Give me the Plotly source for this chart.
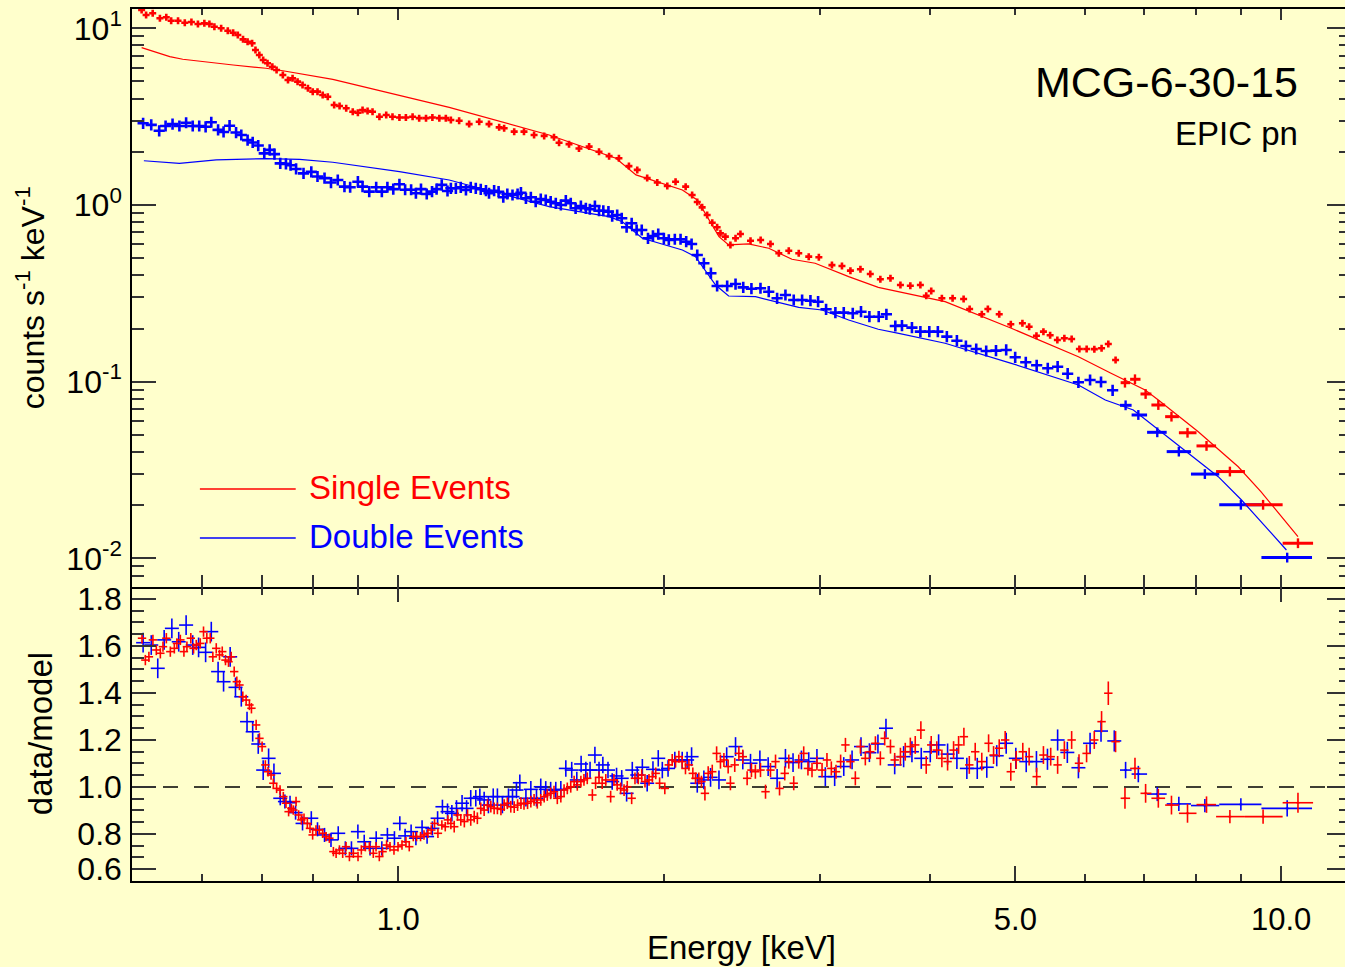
import math
import plotly.graph_objects as go

# ------------------------------------------------------------------ data
# Upper panel: count rate (counts s^-1 keV^-1), narrow bins
red_E = [0.512, 0.518, 0.527, 0.537, 0.546, 0.553, 0.563, 0.573, 0.583, 0.593,
         0.603, 0.611, 0.619, 0.630, 0.641, 0.650, 0.658, 0.667, 0.675, 0.683,
         0.689, 0.696, 0.703, 0.711, 0.720, 0.728, 0.740, 0.750, 0.759, 0.769,
         0.779, 0.790, 0.800, 0.810, 0.821, 0.832, 0.846, 0.858, 0.873, 0.888,
         0.900, 0.911, 0.923, 0.935, 0.952, 0.969, 0.985, 1.003, 1.020, 1.038,
         1.056, 1.075, 1.093, 1.113, 1.132,
         1.147, 1.172, 1.203, 1.235, 1.267, 1.301, 1.318, 1.353, 1.388, 1.425,
         1.463, 1.501, 1.521, 1.561, 1.602, 1.645, 1.688, 1.733, 1.778, 1.825,
         1.865, 1.914, 1.965, 2.017, 2.061, 2.116, 2.152, 2.181, 2.209, 2.238,
         2.268, 2.297, 2.317, 2.347, 2.378, 2.410, 2.441, 2.506, 2.573, 2.640,
         2.698, 2.769, 2.842, 2.917, 2.995, 3.099, 3.181, 3.252, 3.338, 3.425,
         3.516, 3.610,
         3.705, 3.802, 3.903, 3.963, 4.015, 4.128, 4.245, 4.369, 4.438, 4.581,
         4.654, 4.794, 4.941, 5.093, 5.183, 5.283, 5.380, 5.475, 5.579, 5.682,
         5.791, 5.909, 6.022, 6.144, 6.261, 6.372, 6.494]
red_rate = [12.7, 11.9, 12.16, 11.4, 11.54, 11.04, 11.04, 10.76, 10.86, 10.57,
            10.67, 10.57, 10.21, 10.0, 9.69, 9.44, 9.17, 8.66, 8.40, 8.23,
            7.54, 7.06, 6.62, 6.34, 6.06, 5.81, 5.44, 5.10, 5.21, 4.99,
            4.78, 4.58, 4.38, 4.38, 4.19, 4.10, 3.68, 3.63, 3.53, 3.37,
            3.33, 3.45, 3.40, 3.37, 3.16, 3.23, 3.16, 3.13, 3.13, 3.16,
            3.10, 3.10, 3.13, 3.10, 3.10,
            3.03, 3.00, 2.87, 2.96, 2.87, 2.75, 2.72, 2.60, 2.60, 2.49,
            2.46, 2.42, 2.25, 2.21, 2.09, 2.14, 2.00, 1.89, 1.84, 1.66,
            1.58, 1.42, 1.34, 1.28, 1.355, 1.27, 1.14, 1.04, 0.97, 0.878,
            0.794, 0.748, 0.691, 0.662, 0.594, 0.648, 0.685, 0.628, 0.634, 0.602,
            0.533, 0.551, 0.533, 0.510, 0.506, 0.457, 0.452, 0.425, 0.433, 0.407,
            0.380, 0.385,
            0.3526, 0.3494, 0.3526, 0.3067, 0.326, 0.2965, 0.2965, 0.2938, 0.2578, 0.2406,
            0.2578, 0.2406, 0.2113, 0.2140, 0.2048, 0.1821, 0.1919, 0.1831, 0.1722, 0.1760,
            0.1744, 0.1531, 0.1531, 0.1528, 0.1545, 0.1634, 0.1327]

blue_E = [0.514, 0.525, 0.536, 0.545, 0.555, 0.565, 0.575, 0.585, 0.595, 0.605,
          0.614, 0.625, 0.634, 0.644, 0.655, 0.664, 0.675, 0.684, 0.694, 0.705,
          0.715, 0.724, 0.735, 0.746, 0.755, 0.766, 0.781, 0.797, 0.810, 0.825,
          0.839, 0.854, 0.869, 0.882, 0.900, 0.911, 0.927, 0.944, 0.958, 0.972,
          0.987, 1.003, 1.018, 1.034, 1.047, 1.061, 1.077, 1.092, 1.105, 1.120,
          1.137,
          1.147, 1.162, 1.177, 1.193, 1.208, 1.224, 1.240, 1.257, 1.267, 1.284,
          1.299, 1.315, 1.329, 1.347, 1.365, 1.377, 1.395, 1.413, 1.431, 1.450,
          1.469, 1.488, 1.508, 1.528, 1.548, 1.568, 1.588, 1.610, 1.631, 1.648,
          1.670, 1.688, 1.707, 1.730, 1.747, 1.770, 1.791, 1.814, 1.838, 1.862,
          1.887, 1.918, 1.943, 1.970, 1.999, 2.025, 2.057, 2.088, 2.119, 2.149,
          2.181, 2.219, 2.260, 2.297, 2.358, 2.410, 2.459, 2.512, 2.572, 2.628,
          2.686, 2.745, 2.805, 2.867, 2.930, 2.989, 3.052, 3.127, 3.196, 3.272,
          3.343, 3.417, 3.501, 3.572, 3.656,
          3.720, 3.818, 3.903, 3.995, 4.085, 4.182, 4.293, 4.395, 4.515, 4.634,
          4.754, 4.882, 4.998, 5.138, 5.286, 5.441, 5.583, 5.731, 5.894, 6.076,
          6.252, 6.444]
blue_rate = [2.90, 2.84, 2.63, 2.80, 2.87, 2.80, 2.92, 2.80, 2.80, 2.77,
             2.94, 2.66, 2.59, 2.81, 2.57, 2.49, 2.33, 2.26, 2.17, 1.96,
             2.05, 1.94, 1.72, 1.71, 1.68, 1.60, 1.51, 1.54, 1.45, 1.42,
             1.34, 1.385, 1.27, 1.26, 1.355, 1.27, 1.19, 1.26, 1.19, 1.26,
             1.23, 1.31, 1.22, 1.22, 1.165, 1.23, 1.154, 1.19, 1.23, 1.30,
             1.20,
             1.243, 1.243, 1.259, 1.216, 1.259, 1.243, 1.227, 1.205, 1.165, 1.205,
             1.189, 1.106, 1.154, 1.139, 1.154, 1.174, 1.091, 1.106, 1.044, 1.081,
             1.067, 1.044, 1.022, 1.000, 1.058, 1.022, 0.958, 0.987, 0.958, 0.946,
             0.987, 0.928, 0.928, 0.917, 0.866, 0.878, 0.841, 0.748, 0.788, 0.722,
             0.722, 0.648, 0.668, 0.685, 0.648, 0.634, 0.640, 0.640, 0.620, 0.601,
             0.521, 0.468, 0.411, 0.348, 0.348, 0.357, 0.342, 0.336, 0.338, 0.323,
             0.2965, 0.3095, 0.290, 0.290, 0.2873, 0.2836, 0.2569, 0.2458, 0.2458, 0.2438,
             0.249, 0.2333, 0.2333, 0.2406, 0.2066,
             0.2075, 0.2022, 0.1919, 0.1919, 0.1919, 0.1798, 0.1706, 0.1592, 0.1531, 0.1492,
             0.1498, 0.1512, 0.1374, 0.1288, 0.1238, 0.1191, 0.1216, 0.1110, 0.0992, 0.1022,
             0.0996, 0.0894]

# Wide high-energy bins (centre, lower edge, upper edge), both panels
red_bin_E = [6.655, 6.831, 7.023, 7.260, 7.513, 7.834, 8.232, 8.750, 9.541, 10.45]
red_bin_lo = [6.58, 6.745, 6.93, 7.13, 7.39, 7.66, 8.02, 8.44, 9.10, 10.04]
red_bin_hi = [6.745, 6.93, 7.13, 7.39, 7.66, 8.02, 8.44, 9.10, 10.04, 10.87]
red_bin_rate = [0.0987, 0.1032, 0.0852, 0.0738, 0.0634, 0.0514, 0.0433, 0.0310, 0.0201, 0.01218]
red_bin_ratio = [0.952, 1.079, 0.973, 0.952, 0.923, 0.888, 0.925, 0.874, 0.874, 0.933]
red_bin_ratio_err = [0.045, 0.045, 0.04, 0.04, 0.04, 0.04, 0.035, 0.028, 0.03, 0.043]

blue_bin_E = [6.666, 6.891, 7.240, 7.659, 8.197, 9.004, 10.16]
blue_bin_lo = [6.569, 6.771, 7.05, 7.42, 7.905, 8.51, 9.50]
blue_bin_hi = [6.771, 7.05, 7.42, 7.905, 8.51, 9.50, 10.84]
blue_bin_rate = [0.0735, 0.0648, 0.0517, 0.0402, 0.0300, 0.0201, 0.0101]
blue_bin_ratio = [1.072, 1.055, 0.970, 0.928, 0.921, 0.926, 0.909]
blue_bin_ratio_err = [0.035, 0.035, 0.03, 0.03, 0.028, 0.026, 0.035]

# Model curves (upper panel)
red_model_E = [0.512, 0.532, 0.551, 0.570, 0.595, 0.650, 0.708, 0.740, 0.843, 1.003,
               1.142, 1.482, 1.764, 1.859, 2.098, 2.181, 2.249, 2.308, 2.367, 2.493,
               2.628, 2.792, 2.966, 3.237, 3.497, 4.163, 4.948, 5.894, 6.417, 7.015,
               7.260, 8.057, 8.942, 9.492, 10.45]
red_model = [7.77, 7.28, 6.91, 6.68, 6.51, 6.20, 5.94, 5.75, 5.14, 4.19,
             3.57, 2.49, 1.84, 1.48, 1.216, 1.067, 0.822, 0.662, 0.594, 0.602,
             0.569, 0.493, 0.468, 0.393, 0.342, 0.2836, 0.2005, 0.1385, 0.1116, 0.0897,
             0.0788, 0.0521, 0.0330, 0.0238, 0.01327]
blue_model_E = [0.515, 0.565, 0.622, 0.708, 0.773, 0.843, 1.003, 1.142, 1.482, 1.733,
                1.794, 1.890, 2.098, 2.171, 2.288, 2.367, 2.539, 2.721, 2.842, 3.020,
                3.237, 3.497, 3.689, 4.163, 4.948, 5.894, 6.322, 6.802, 7.713, 8.488,
                9.019, 10.14]
blue_model = [1.78, 1.72, 1.80, 1.83, 1.81, 1.745, 1.543, 1.385, 0.978, 0.859,
              0.804, 0.648, 0.556, 0.510, 0.3526, 0.3055, 0.3027, 0.2778, 0.2636, 0.2545,
              0.2234, 0.198, 0.1879, 0.165, 0.127, 0.0958, 0.0788, 0.0692, 0.0420, 0.0290,
              0.0214, 0.01115]

# Lower panel: data/model ratio, narrow bins
red_ratio_E = [0.5125, 0.5170, 0.5218, 0.5273, 0.5320, 0.5376, 0.5413, 0.5461, 0.5518, 0.5576,
               0.5614, 0.5664, 0.5717, 0.5762, 0.5821, 0.5863, 0.5904, 0.5966, 0.6017, 0.6069,
               0.6124, 0.6165, 0.6220, 0.6273, 0.6318, 0.6372, 0.6422, 0.6467, 0.6518, 0.6563,
               0.6608, 0.6666, 0.6724, 0.6782, 0.6818, 0.6902, 0.6962, 0.7010, 0.7070, 0.7120,
               0.7176, 0.7219, 0.7281, 0.7346, 0.7409, 0.7461, 0.7512, 0.7566, 0.7604, 0.7659,
               0.7711, 0.7766, 0.7820, 0.7888, 0.7943, 0.7998, 0.8068, 0.8138, 0.8210, 0.8283,
               0.8354, 0.8443, 0.8503, 0.8577, 0.8650, 0.8726, 0.8803, 0.8894, 0.9003, 0.9081,
               0.9177, 0.9273, 0.9369, 0.9436, 0.9517, 0.9598, 0.9700, 0.9786, 0.9888, 0.9993,
               1.0097, 1.0202, 1.0290, 1.0399, 1.0489, 1.0598, 1.0693, 1.0804, 1.0898, 1.0992,
               1.1089, 1.1204, 1.1303, 1.1381,
               1.147, 1.157, 1.167, 1.177, 1.188, 1.198, 1.208, 1.219, 1.229, 1.240,
               1.251, 1.262, 1.273, 1.284, 1.295, 1.307, 1.318, 1.329, 1.341, 1.353,
               1.365, 1.377, 1.388, 1.401, 1.413, 1.425, 1.437, 1.450, 1.463, 1.475,
               1.488, 1.501, 1.514, 1.528, 1.541, 1.554, 1.568, 1.582, 1.595, 1.610,
               1.623, 1.637, 1.659, 1.673, 1.688, 1.702, 1.718, 1.740, 1.755, 1.770,
               1.786, 1.802, 1.817, 1.838, 1.854, 1.870, 1.887, 1.903, 1.923, 1.940,
               1.957, 1.977, 2.004, 2.025, 2.043, 2.061, 2.079, 2.097, 2.115, 2.134,
               2.156, 2.171, 2.190, 2.205, 2.225, 2.244, 2.268, 2.294, 2.317, 2.338,
               2.364, 2.378, 2.405, 2.431, 2.456, 2.484, 2.512, 2.538, 2.572, 2.606,
               2.640, 2.675, 2.703, 2.740, 2.769, 2.805, 2.842, 2.879, 2.911, 2.942,
               2.980, 3.020, 3.059, 3.094, 3.132, 3.170, 3.210, 3.252, 3.294, 3.338,
               3.381, 3.425, 3.471, 3.516, 3.556, 3.610, 3.650,
               3.705, 3.752, 3.802, 3.851, 3.908, 3.963, 4.015, 4.074, 4.128, 4.190,
               4.256, 4.312, 4.372, 4.434, 4.503, 4.581, 4.663, 4.724, 4.794, 4.869,
               4.941, 5.011, 5.098, 5.183, 5.286, 5.380, 5.483, 5.583, 5.682, 5.791,
               5.903, 6.021, 6.143, 6.261, 6.372, 6.494]
red_ratio = [1.633, 1.540, 1.554, 1.626, 1.583, 1.569, 1.597, 1.633, 1.576, 1.590,
             1.611, 1.626, 1.576, 1.597, 1.633, 1.590, 1.604, 1.611, 1.661, 1.633,
             1.633, 1.554, 1.590, 1.562, 1.576, 1.540, 1.533, 1.554, 1.491, 1.448,
             1.434, 1.384, 1.370, 1.349, 1.335, 1.264, 1.207, 1.172, 1.094, 1.065,
             1.051, 1.016, 0.994, 0.987, 0.959, 0.931, 0.895, 0.909, 0.902, 0.938,
             0.881, 0.860, 0.867, 0.845, 0.824, 0.796, 0.817, 0.817, 0.803, 0.789,
             0.782, 0.725, 0.718, 0.732, 0.718, 0.746, 0.704, 0.718, 0.704, 0.732,
             0.746, 0.746, 0.718, 0.746, 0.704, 0.725, 0.753, 0.746, 0.732, 0.746,
             0.753, 0.767, 0.746, 0.789, 0.789, 0.789, 0.796, 0.803, 0.817, 0.845,
             0.803, 0.838, 0.831, 0.860,
             0.845, 0.831, 0.881, 0.860, 0.853, 0.881, 0.860, 0.874, 0.867, 0.909,
             0.902, 0.923, 0.916, 0.909, 0.909, 0.905, 0.923, 0.931, 0.916, 0.914,
             0.923, 0.931, 0.928, 0.931, 0.938, 0.945, 0.933, 0.945, 0.959, 0.966,
             0.973, 0.980, 0.952, 0.959, 0.987, 0.994, 1.001, 1.023, 1.009, 1.023,
             1.030, 1.037, 0.966, 1.016, 1.041, 1.016, 1.030, 0.959, 1.030, 1.009,
             0.994, 0.987, 1.001, 0.952, 1.037, 1.037, 1.051, 1.023, 1.030, 1.044,
             1.058, 1.016, 0.994, 1.094, 1.115, 1.108, 1.129, 1.108, 1.079, 1.094,
             1.058, 1.037, 1.037, 1.023, 0.973, 1.058, 1.065, 1.143, 1.108, 1.115,
             1.087, 1.016, 1.094, 1.143, 1.129, 1.037, 1.072, 1.065, 1.072, 0.980,
             1.072, 1.108, 0.994, 1.058, 1.108, 1.016, 1.108, 1.143, 1.079, 1.072,
             1.101, 1.072, 1.115, 1.079, 1.065, 1.108, 1.179, 1.108, 1.037, 1.172,
             1.122, 1.150, 1.186, 1.122, 1.207, 1.172, 1.115,
             1.129, 1.150, 1.172, 1.179, 1.242, 1.094, 1.179, 1.157, 1.122, 1.108,
             1.157, 1.179, 1.214, 1.094, 1.150, 1.108, 1.186, 1.136, 1.165, 1.200,
             1.065, 1.115, 1.150, 1.129, 1.044, 1.136, 1.129, 1.094, 1.157, 1.200,
             1.101, 1.143, 1.200, 1.278, 1.399, 1.193]
red_ratio_err = [0.022, 0.022, 0.022, 0.022, 0.022, 0.022, 0.022, 0.022, 0.022, 0.022,
                 0.022, 0.022, 0.022, 0.022, 0.022, 0.022, 0.022, 0.022, 0.022, 0.022,
                 0.022, 0.022, 0.022, 0.022, 0.022, 0.022, 0.022, 0.022, 0.022, 0.022,
                 0.022, 0.022, 0.022, 0.022, 0.022, 0.022, 0.022, 0.022, 0.020, 0.020,
                 0.020, 0.020, 0.020, 0.020, 0.020, 0.020, 0.020, 0.020, 0.020, 0.020,
                 0.020, 0.020, 0.020, 0.020, 0.020, 0.020, 0.020, 0.020, 0.020, 0.020,
                 0.020, 0.020, 0.020, 0.020, 0.020, 0.020, 0.020, 0.020, 0.020, 0.020,
                 0.020, 0.020, 0.020, 0.020, 0.020, 0.020, 0.020, 0.020, 0.020, 0.020,
                 0.020, 0.020, 0.020, 0.020, 0.020, 0.020, 0.020, 0.020, 0.020, 0.020,
                 0.020, 0.020, 0.020, 0.020,
                 0.025, 0.025, 0.025, 0.025, 0.025, 0.025, 0.025, 0.025, 0.025, 0.025,
                 0.025, 0.025, 0.025, 0.025, 0.025, 0.025, 0.025, 0.025, 0.025, 0.025,
                 0.025, 0.025, 0.025, 0.025, 0.025, 0.025, 0.025, 0.025, 0.025, 0.025,
                 0.025, 0.025, 0.025, 0.025, 0.025, 0.025, 0.025, 0.025, 0.025, 0.025,
                 0.025, 0.025, 0.025, 0.025, 0.025, 0.025, 0.025, 0.025, 0.025, 0.025,
                 0.025, 0.025, 0.025, 0.025, 0.025, 0.025, 0.025, 0.025, 0.025, 0.025,
                 0.025, 0.025, 0.025, 0.025, 0.025, 0.025, 0.025, 0.025, 0.025, 0.025,
                 0.025, 0.025, 0.025, 0.025, 0.030, 0.030, 0.030, 0.030, 0.030, 0.030,
                 0.030, 0.030, 0.030, 0.030, 0.030, 0.030, 0.030, 0.030, 0.030, 0.030,
                 0.030, 0.030, 0.030, 0.030, 0.030, 0.030, 0.030, 0.030, 0.030, 0.030,
                 0.030, 0.030, 0.030, 0.030, 0.030, 0.030, 0.030, 0.030, 0.030, 0.030,
                 0.030, 0.030, 0.030, 0.030, 0.030, 0.030, 0.030,
                 0.038, 0.038, 0.038, 0.038, 0.038, 0.038, 0.038, 0.038, 0.038, 0.038,
                 0.038, 0.038, 0.038, 0.038, 0.038, 0.038, 0.038, 0.038, 0.038, 0.038,
                 0.038, 0.038, 0.038, 0.038, 0.038, 0.038, 0.038, 0.038, 0.038, 0.038,
                 0.038, 0.038, 0.038, 0.045, 0.050, 0.045]

blue_ratio_E = [0.514, 0.525, 0.534, 0.543, 0.554, 0.564, 0.575, 0.585, 0.594, 0.605,
                0.614, 0.625, 0.634, 0.645, 0.654, 0.664, 0.674, 0.684, 0.694, 0.703,
                0.713, 0.723, 0.735, 0.744, 0.754, 0.765, 0.779, 0.797, 0.810, 0.825,
                0.839, 0.855, 0.871, 0.885, 0.900, 0.915, 0.929, 0.944, 0.958, 0.972,
                0.990, 1.004, 1.018, 1.034, 1.047, 1.064, 1.078, 1.093, 1.108, 1.122,
                1.137, 1.150, 1.164, 1.181, 1.195, 1.208, 1.224, 1.237, 1.251, 1.265,
                1.281, 1.295, 1.312, 1.333, 1.347, 1.361, 1.373, 1.395, 1.413, 1.434,
                1.450, 1.469, 1.488, 1.508, 1.528, 1.548, 1.572, 1.593, 1.611, 1.631,
                1.649, 1.670, 1.688, 1.705, 1.728, 1.747, 1.767, 1.791, 1.814, 1.841,
                1.865, 1.890, 1.914, 1.943, 1.970, 1.991, 2.021, 2.057, 2.097, 2.124,
                2.149, 2.181, 2.219, 2.258, 2.308, 2.355, 2.410, 2.456, 2.506, 2.568,
                2.624, 2.686, 2.745, 2.800, 2.862, 2.917, 2.980, 3.046, 3.121, 3.196,
                3.266, 3.343, 3.417, 3.494, 3.568, 3.650,
                3.736, 3.818, 3.912, 4.005, 4.093, 4.190, 4.293, 4.406, 4.527, 4.641,
                4.763, 4.882, 5.006, 5.144, 5.283, 5.437, 5.583, 5.726, 5.894, 6.076,
                6.252, 6.472]
blue_ratio = [1.614, 1.604, 1.505, 1.626, 1.675, 1.618, 1.689, 1.604, 1.594, 1.573,
              1.661, 1.491, 1.448, 1.554, 1.424, 1.384, 1.278, 1.235, 1.183, 1.072,
              1.122, 1.058, 0.952, 0.938, 0.933, 0.891, 0.845, 0.867, 0.820, 0.796,
              0.775, 0.803, 0.739, 0.739, 0.810, 0.767, 0.739, 0.782, 0.739, 0.796,
              0.782, 0.845, 0.792, 0.810, 0.782, 0.828, 0.789, 0.824, 0.867, 0.916,
              0.895, 0.888, 0.909, 0.931, 0.909, 0.952, 0.952, 0.959, 0.945, 0.923,
              0.959, 0.959, 0.923, 0.959, 0.959, 0.987, 1.018, 0.952, 0.990, 0.952,
              1.001, 0.990, 0.987, 0.987, 0.990, 1.079, 1.072, 1.030, 1.098, 1.072,
              1.072, 1.136, 1.072, 1.094, 1.072, 1.023, 1.047, 1.037, 0.973, 1.072,
              1.051, 1.084, 1.016, 1.075, 1.122, 1.072, 1.079, 1.115, 1.115, 1.115,
              1.129, 1.016, 1.030, 1.041, 1.030, 1.129, 1.172, 1.115, 1.101, 1.115,
              1.087, 1.037, 1.122, 1.104, 1.115, 1.108, 1.122, 1.044, 1.044, 1.087,
              1.115, 1.172, 1.146, 1.183, 1.250, 1.094,
              1.129, 1.150, 1.122, 1.150, 1.179, 1.140, 1.122, 1.079, 1.079, 1.084,
              1.133, 1.186, 1.122, 1.108, 1.108, 1.118, 1.200, 1.147, 1.082, 1.186,
              1.238, 1.196]
blue_ratio_err = [0.042, 0.042, 0.042, 0.042, 0.042, 0.042, 0.042, 0.042, 0.042, 0.042,
                  0.042, 0.042, 0.042, 0.042, 0.042, 0.042, 0.042, 0.042, 0.042, 0.042,
                  0.042, 0.042, 0.030, 0.030, 0.030, 0.030, 0.030, 0.030, 0.030, 0.030,
                  0.030, 0.030, 0.030, 0.030, 0.030, 0.030, 0.030, 0.030, 0.030, 0.030,
                  0.030, 0.030, 0.030, 0.030, 0.030, 0.030, 0.030, 0.030, 0.030, 0.030,
                  0.035, 0.035, 0.035, 0.035, 0.035, 0.035, 0.035, 0.035, 0.035, 0.035,
                  0.035, 0.035, 0.035, 0.035, 0.035, 0.035, 0.035, 0.035, 0.035, 0.035,
                  0.035, 0.035, 0.035, 0.035, 0.035, 0.035, 0.035, 0.035, 0.035, 0.035,
                  0.035, 0.035, 0.035, 0.035, 0.035, 0.035, 0.035, 0.035, 0.035, 0.035,
                  0.035, 0.035, 0.035, 0.035, 0.035, 0.035, 0.035, 0.035, 0.035, 0.035,
                  0.040, 0.040, 0.040, 0.040, 0.040, 0.040, 0.040, 0.040, 0.040, 0.040,
                  0.040, 0.040, 0.040, 0.040, 0.040, 0.040, 0.040, 0.040, 0.040, 0.040,
                  0.040, 0.040, 0.040, 0.040, 0.040, 0.040,
                  0.045, 0.045, 0.045, 0.045, 0.045, 0.045, 0.045, 0.045, 0.045, 0.045,
                  0.045, 0.045, 0.045, 0.045, 0.045, 0.045, 0.045, 0.045, 0.045, 0.045,
                  0.045, 0.045]

# Axis ranges and tick labels
E_MIN, E_MAX = 0.4993, 12.0
RATE_MIN, RATE_MAX = 0.006887, 12.86
RATIO_MIN, RATIO_MAX = 0.6, 1.851
x_label_vals = [1, 5, 10]
x_label_text = ["1.0", "5.0", "10.0"]
rate_tick_vals = [0.01, 0.1, 1, 10]
rate_tick_text = ["10<sup>-2</sup>", "10<sup>-1</sup>", "10<sup>0</sup>", "10<sup>1</sup>"]
ratio_tick_vals = [0.65, 0.8, 1.0, 1.2, 1.4, 1.6, 1.8]
ratio_tick_text = ["0.6", "0.8", "1.0", "1.2", "1.4", "1.6", "1.8"]

# ------------------------------------------------------------------ style
BG = "#FFFFCC"
RED = "#FF0000"
BLUE = "#0000FF"
FONT = "Liberation Sans, Arial, Helvetica, sans-serif"
TICKC = "#333333"

X_MINOR = [0.6, 0.7, 0.8, 0.9, 2, 3, 4, 5, 6, 7, 8, 9]
X_MINOR_NO5 = [0.6, 0.7, 0.8, 0.9, 2, 3, 4, 6, 7, 8, 9]
RATE_MINOR = [0.008, 0.009, 0.02, 0.03, 0.04, 0.05, 0.06, 0.07, 0.08, 0.09,
              0.2, 0.3, 0.4, 0.5, 0.6, 0.7, 0.8, 0.9, 2, 3, 4, 5, 6, 7, 8, 9]
RATIO_MINOR = [0.7, 0.75, 0.85, 0.9, 0.95, 1.05, 1.1, 1.15, 1.25, 1.3, 1.35,
               1.45, 1.5, 1.55, 1.65, 1.7, 1.75, 1.85]

def lower_err(c, lo):
    return [ci - li for ci, li in zip(c, lo)]

def upper_err(c, hi):
    return [hi_i - ci for ci, hi_i in zip(c, hi)]

fig = go.Figure()

# ---- upper panel: data
fig.add_trace(go.Scatter(
    x=blue_E, y=blue_rate, mode="markers", xaxis="x", yaxis="y", hoverinfo="skip",
    marker=dict(symbol="cross-thin", size=8, color=BLUE, line=dict(width=2.6, color=BLUE))))
fig.add_trace(go.Scatter(
    x=red_E, y=red_rate, mode="markers", xaxis="x", yaxis="y", hoverinfo="skip",
    marker=dict(symbol="cross-thin", size=5, color=RED, line=dict(width=2.6, color=RED))))
fig.add_trace(go.Scatter(
    x=blue_bin_E, y=blue_bin_rate, mode="markers", xaxis="x", yaxis="y", hoverinfo="skip",
    marker=dict(symbol="line-ns", size=7, color=BLUE, line=dict(width=2.4, color=BLUE)),
    error_x=dict(type="data", symmetric=False, array=upper_err(blue_bin_E, blue_bin_hi),
                 arrayminus=lower_err(blue_bin_E, blue_bin_lo), thickness=3, width=0, color=BLUE)))
fig.add_trace(go.Scatter(
    x=red_bin_E, y=red_bin_rate, mode="markers", xaxis="x", yaxis="y", hoverinfo="skip",
    marker=dict(symbol="line-ns", size=7, color=RED, line=dict(width=2.4, color=RED)),
    error_x=dict(type="data", symmetric=False, array=upper_err(red_bin_E, red_bin_hi),
                 arrayminus=lower_err(red_bin_E, red_bin_lo), thickness=3, width=0, color=RED)))

# ---- upper panel: model curves (on the overlay x axis that carries the top ticks)
fig.add_trace(go.Scatter(x=red_model_E, y=red_model, mode="lines", xaxis="x3", yaxis="y",
                         hoverinfo="skip", line=dict(color=RED, width=1.2)))
fig.add_trace(go.Scatter(x=blue_model_E, y=blue_model, mode="lines", xaxis="x3", yaxis="y",
                         hoverinfo="skip", line=dict(color=BLUE, width=1.2)))

# ---- lower panel: ratios
fig.add_trace(go.Scatter(
    x=blue_ratio_E, y=blue_ratio, mode="markers", xaxis="x2", yaxis="y2", hoverinfo="skip",
    marker=dict(symbol="line-ew", size=10, color=BLUE, line=dict(width=1.6, color=BLUE)),
    error_y=dict(type="data", array=blue_ratio_err, thickness=1.6, width=0, color=BLUE)))
fig.add_trace(go.Scatter(
    x=red_ratio_E, y=red_ratio, mode="markers", xaxis="x2", yaxis="y2", hoverinfo="skip",
    marker=dict(symbol="line-ew", size=6, color=RED, line=dict(width=1.6, color=RED)),
    error_y=dict(type="data", array=red_ratio_err, thickness=1.6, width=0, color=RED)))
fig.add_trace(go.Scatter(
    x=blue_bin_E, y=blue_bin_ratio, mode="markers", xaxis="x4", yaxis="y2", hoverinfo="skip",
    marker=dict(symbol="line-ew", size=2, color=BLUE, line=dict(width=1.6, color=BLUE)),
    error_x=dict(type="data", symmetric=False, array=upper_err(blue_bin_E, blue_bin_hi),
                 arrayminus=lower_err(blue_bin_E, blue_bin_lo), thickness=1.6, width=0, color=BLUE),
    error_y=dict(type="data", array=blue_bin_ratio_err, thickness=1.6, width=0, color=BLUE)))
fig.add_trace(go.Scatter(
    x=red_bin_E, y=red_bin_ratio, mode="markers", xaxis="x4", yaxis="y2", hoverinfo="skip",
    marker=dict(symbol="line-ew", size=2, color=RED, line=dict(width=1.6, color=RED)),
    error_x=dict(type="data", symmetric=False, array=upper_err(red_bin_E, red_bin_hi),
                 arrayminus=lower_err(red_bin_E, red_bin_lo), thickness=1.6, width=0, color=RED),
    error_y=dict(type="data", array=red_bin_ratio_err, thickness=1.6, width=0, color=RED)))

# ------------------------------------------------------------------ axes
SPLIT = 0.33716
xr = [math.log10(E_MIN), math.log10(E_MAX)]
yr = [math.log10(RATE_MIN), math.log10(RATE_MAX)]

def xax(**kw):
    d = dict(type="log", range=xr, showgrid=False, zeroline=False, showline=True,
             linecolor="black", linewidth=1.5, ticks="inside", tickcolor=TICKC, tickwidth=1.5,
             showticklabels=False, tickmode="array", tickvals=[1, 10])
    d.update(kw)
    return d

def minor(vals, ln):
    return dict(tickmode="array", tickvals=vals, ticks="inside", ticklen=ln,
                tickcolor=TICKC, tickwidth=1.5, showgrid=False)

# the original frame extends to 12 keV, a few pixels past the right edge of the picture
fig.update_layout(
    width=1353, height=967,
    margin=dict(l=132, r=0, t=9, b=86, pad=0),
    paper_bgcolor=BG, plot_bgcolor=BG, showlegend=False,
    font=dict(family=FONT, size=31, color="black"),
    xaxis=xax(domain=[0, 1], anchor="y", side="bottom", ticklen=12, minor=minor(X_MINOR, 12)),
    xaxis3=xax(overlaying="x", anchor="y", side="top", ticklen=11, minor=minor(X_MINOR, 6)),
    yaxis=dict(type="log", domain=[SPLIT, 1], anchor="x", range=yr, showgrid=False, zeroline=False,
               showline=True, mirror="ticks", linecolor="black", linewidth=1.5, ticks="inside",
               ticklen=24, tickcolor=TICKC, tickwidth=1.5, tickmode="array",
               tickvals=rate_tick_vals, ticktext=rate_tick_text, tickfont=dict(size=32),
               ticklabelstandoff=2, minor=minor(RATE_MINOR, 12)),
    xaxis2=xax(domain=[0, 1], anchor="y2", side="bottom", ticklen=15, tickvals=x_label_vals,
               ticktext=x_label_text, showticklabels=True, tickfont=dict(size=31),
               ticklabelstandoff=10, minor=minor(X_MINOR_NO5, 7)),
    xaxis4=xax(overlaying="x2", anchor="y2", side="top", ticklen=15, showline=False,
               minor=minor(X_MINOR, 8)),
    yaxis2=dict(domain=[0, SPLIT], anchor="x2", range=[RATIO_MIN, RATIO_MAX], showgrid=False,
                zeroline=False, showline=True, mirror="ticks", linecolor="black", linewidth=1.5,
                ticks="inside", ticklen=24, tickcolor=TICKC, tickwidth=1.5, tickmode="array",
                tickvals=ratio_tick_vals, ticktext=ratio_tick_text, tickfont=dict(size=32),
                ticklabelstandoff=2, minor=minor(RATIO_MINOR, 12)),
)

# dashed unity line in the ratio panel
fig.add_shape(type="line", xref="x2 domain", yref="y2", x0=0, x1=1, y0=1.0, y1=1.0,
              line=dict(color="black", width=1.5, dash="15px,16px"), layer="below")

# legend (drawn as in the original figure)
fig.add_shape(type="line", xref="paper", yref="paper", x0=0.0557, x1=0.1343, y0=0.4495, y1=0.4495,
              line=dict(color=RED, width=1.6))
fig.add_shape(type="line", xref="paper", yref="paper", x0=0.0557, x1=0.1343, y0=0.3933, y1=0.3933,
              line=dict(color=BLUE, width=1.6))

ann = dict(xref="paper", yref="paper", showarrow=False)
fig.add_annotation(text="Single Events", x=0.1433, y=0.4507, xanchor="left", yanchor="middle",
                   font=dict(size=33, color=RED), **ann)
fig.add_annotation(text="Double Events", x=0.1433, y=0.3945, xanchor="left", yanchor="middle",
                   font=dict(size=33, color=BLUE), **ann)
fig.add_annotation(text="MCG-6-30-15", x=0.9582, y=0.9163, xanchor="right", yanchor="middle",
                   font=dict(size=43, color="black"), **ann)
fig.add_annotation(text="EPIC pn", x=0.9582, y=0.8567, xanchor="right", yanchor="middle",
                   font=dict(size=33, color="black"), **ann)
fig.add_annotation(text="counts s<sup>-1</sup> keV<sup>-1</sup>", x=-0.0835, y=0.6686,
                   xanchor="center", yanchor="middle", textangle=-90,
                   font=dict(size=32, color="black"), **ann)
fig.add_annotation(text="data/model", x=-0.0745, y=0.1686, xanchor="center", yanchor="middle",
                   textangle=-90, font=dict(size=33, color="black"), **ann)
fig.add_annotation(text="Energy [keV]", x=0.4996, y=-0.0757, xanchor="center", yanchor="middle",
                   font=dict(size=33, color="black"), **ann)

fig.write_html("out.html")
